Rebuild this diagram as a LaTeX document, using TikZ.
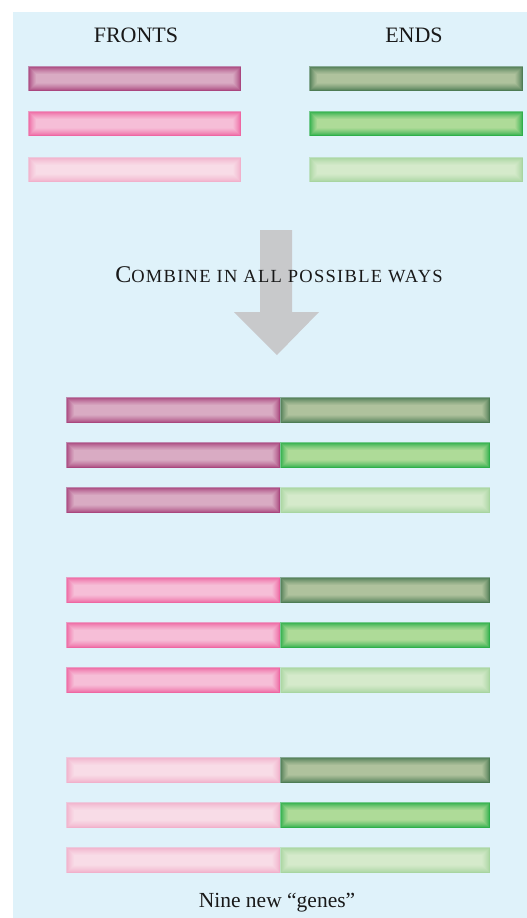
\documentclass[tikz,border=0pt]{standalone}
\usepackage{fontspec}
\setmainfont{Liberation Serif}
\usetikzlibrary{calc}
\definecolor{bgblue}{HTML}{DFF2FA}
\definecolor{arrowgray}{HTML}{C8C9CB}
\definecolor{fAedge}{HTML}{A9477E}\definecolor{fAcen}{HTML}{D9ABC3}
\definecolor{fBedge}{HTML}{EE67A2}\definecolor{fBcen}{HTML}{F6BED7}
\definecolor{fCedge}{HTML}{F1B1CB}\definecolor{fCcen}{HTML}{F8DCE7}
\definecolor{eAedge}{HTML}{4E7C54}\definecolor{eAcen}{HTML}{AFC29D}
\definecolor{eBedge}{HTML}{2EAF4A}\definecolor{eBcen}{HTML}{AEDB98}
\definecolor{eCedge}{HTML}{A8D5A0}\definecolor{eCcen}{HTML}{D5EACB}
\newcommand\genebar[6]{%
  \fill[#5!60!bgblue] (#1,#2) rectangle (#3,#4);
  \foreach \i in {1,...,16}{%
    \pgfmathtruncatemacro\p{100*((\i-1)/15)^0.75}%
    \fill[#6!\p!#5] (#1+\i*0.5,#2+\i*0.5) rectangle (#3-\i*0.5,#4-\i*0.5);
  }%
}
\tikzset{label text/.style={font=\fontsize{22}{26}\selectfont, text=black!90, inner sep=0pt}}
\begin{document}
\begin{tikzpicture}[x=1pt,y=-1pt]
\useasboundingbox (0,0) rectangle (527,918);
\fill[white] (0,0) rectangle (527,918);
\fill[bgblue] (13,12) rectangle (527,918);
% headers
\node[label text] (fronts) at (136,35) {FRONTS};
\node[label text] (ends) at (414,35) {ENDS};
% top bars
\genebar{28}{66}{241}{91}{fAedge}{fAcen}
\genebar{28}{111}{241}{136}{fBedge}{fBcen}
\genebar{28}{157}{241}{182}{fCedge}{fCcen}
\genebar{309}{66}{523}{91}{eAedge}{eAcen}
\genebar{309}{111}{523}{136}{eBedge}{eBcen}
\genebar{309}{157}{523}{182}{eCedge}{eCcen}
% arrow
\fill[arrowgray] (260,230) -- (292,230) -- (292,312) -- (319,312) -- (277,355) -- (234,312) -- (260,312) -- cycle;
\node[inner sep=0pt, text=black!90] (combine) at (279,275) {\addfontfeature{LetterSpace=7}\fontsize{24}{28}\selectfont C\fontsize{18.5}{22}\selectfont OMBINE IN ALL POSSIBLE WAYS};
% combined bars
\foreach \g/\fe/\fc in {0/fAedge/fAcen, 180/fBedge/fBcen, 360/fCedge/fCcen}{
  \foreach \r/\ee/\ec in {0/eAedge/eAcen, 45/eBedge/eBcen, 90/eCedge/eCcen}{
    \pgfmathsetmacro\yt{397+\g+\r}
    \pgfmathsetmacro\yb{\yt+26}
    \genebar{66}{\yt}{280}{\yb}{\fe}{\fc}
    \genebar{280}{\yt}{490}{\yb}{\ee}{\ec}
  }
}
\node[inner sep=0pt, text=black!90, font=\fontsize{21.5}{25}\selectfont] (nine) at (277,903) {Nine new “genes”};
\end{tikzpicture}
\end{document}
